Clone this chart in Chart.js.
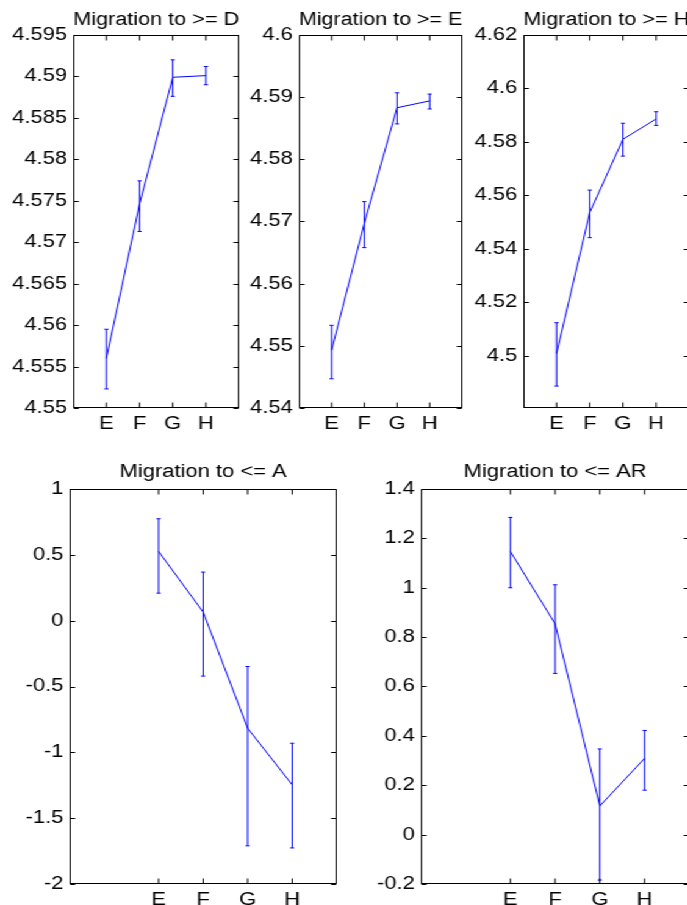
<!DOCTYPE html>
<html>
<head>
<meta charset="utf-8">
<script src="https://cdn.jsdelivr.net/npm/chart.js@4/dist/chart.umd.min.js"></script>
<style>
  html, body { margin: 0; padding: 0; background: #fff; overflow: hidden; width: 687px; height: 905px; }
  /* the original figure is stretched sideways, so the whole page is too */
  #page { position: relative; width: 563px; height: 905px; transform: scaleX(1.22); transform-origin: 0 0; }
  .panel { position: absolute; }
</style>
</head>
<body>
<div id="page"></div>
<script>
const categories = ['E', 'F', 'G', 'H'];

// Migration to >= D
const meanD = [4.5560, 4.5746, 4.5899, 4.5901];
const lowD  = [4.5523, 4.5713, 4.5876, 4.5890];
const highD = [4.5595, 4.5774, 4.5920, 4.5912];
const ticksD = [4.55, 4.555, 4.56, 4.565, 4.57, 4.575, 4.58, 4.585, 4.59, 4.595];

// Migration to >= E
const meanE = [4.5493, 4.5697, 4.5883, 4.5894];
const lowE  = [4.5447, 4.5658, 4.5857, 4.5881];
const highE = [4.5533, 4.5732, 4.5907, 4.5905];
const ticksE = [4.54, 4.55, 4.56, 4.57, 4.58, 4.59, 4.6];

// Migration to >= H
const meanH = [4.5009, 4.5536, 4.5810, 4.5886];
const lowH  = [4.4887, 4.5442, 4.5747, 4.5862];
const highH = [4.5124, 4.5620, 4.5870, 4.5913];
const ticksH = [4.5, 4.52, 4.54, 4.56, 4.58, 4.6, 4.62];

// Migration to <= A
const meanA = [0.526, 0.065, -0.817, -1.247];
const lowA  = [0.209, -0.421, -1.710, -1.726];
const highA = [0.774, 0.369, -0.348, -0.931];
const ticksA = [-2, -1.5, -1, -0.5, 0, 0.5, 1];

// Migration to <= AR
const meanAR = [1.147, 0.854, 0.116, 0.309];
const lowAR  = [1.000, 0.653, -0.184, 0.180];
const highAR = [1.285, 1.012, 0.347, 0.422];
const ticksAR = [-0.2, 0, 0.2, 0.4, 0.6, 0.8, 1, 1.2, 1.4];

const SX = 1.22;         // sideways stretch of the figure
const Y_AXIS_W = 52;
const X_AXIS_H = 34;
const PAD_R = 3;
const TICK = 5;
const CAP = 1.7;
const font = { family: "'Liberation Sans', Arial, Helvetica, sans-serif", size: 18 };

// box = [left, right, top, bottom] of the plot frame in page pixels
const panels = [
  { title: 'Migration to >= D', mean: meanD, low: lowD, high: highD, yTicks: ticksD, yMin: 4.55, yMax: 4.595, xMin: 0, box: [73, 239, 35, 408], titleH: 35 },
  { title: 'Migration to >= E', mean: meanE, low: lowE, high: highE, yTicks: ticksE, yMin: 4.54, yMax: 4.6, xMin: 0, box: [299, 463, 35, 408], titleH: 35 },
  { title: 'Migration to >= H', mean: meanH, low: lowH, high: highH, yTicks: ticksH, yMin: 4.4805, yMax: 4.62, xMin: 0, box: [523, 689, 35, 408], titleH: 35 },
  { title: 'Migration to <= A', mean: meanA, low: lowA, high: highA, yTicks: ticksA, yMin: -2, yMax: 1, xMin: -1, box: [69, 336, 489, 884], titleH: 37 },
  { title: 'Migration to <= AR', mean: meanAR, low: lowAR, high: highAR, yTicks: ticksAR, yMin: -0.2, yMax: 1.4, xMin: -1, box: [421, 689, 489, 884], titleH: 37 }
];

// frame, inward ticks on all four sides and the error bars
const matlabFrame = {
  id: 'matlabFrame',
  afterDatasetsDraw(chart, args, opts) {
    const { ctx, chartArea: a, scales: { x, y } } = chart;
    const l = Math.round(a.left) + 0.5, r = Math.round(a.right) - 0.5;
    const t = Math.round(a.top) + 0.5, b = Math.round(a.bottom) - 0.5;
    ctx.save();
    ctx.lineWidth = 1;

    ctx.strokeStyle = '#0000ff';
    ctx.beginPath();
    opts.low.forEach((lo, i) => {
      const px = x.getPixelForValue(i + 1);
      const y1 = y.getPixelForValue(lo);
      const y2 = y.getPixelForValue(opts.high[i]);
      ctx.moveTo(px, y1); ctx.lineTo(px, y2);
      ctx.moveTo(px - CAP, y1); ctx.lineTo(px + CAP, y1);
      ctx.moveTo(px - CAP, y2); ctx.lineTo(px + CAP, y2);
    });
    ctx.stroke();

    ctx.strokeStyle = '#000';
    ctx.strokeRect(l, t, r - l, b - t);
    ctx.beginPath();
    y.ticks.forEach(tk => {
      const py = Math.round(y.getPixelForValue(tk.value)) + 0.5;
      ctx.moveTo(l, py); ctx.lineTo(l + TICK / SX, py);
      ctx.moveTo(r, py); ctx.lineTo(r - TICK / SX, py);
    });
    x.ticks.forEach(tk => {
      const px = x.getPixelForValue(tk.value);
      ctx.moveTo(px, b); ctx.lineTo(px, b - TICK);
      ctx.moveTo(px, t); ctx.lineTo(px, t + TICK);
    });
    ctx.stroke();
    ctx.restore();
  }
};

const page = document.getElementById('page');

panels.forEach(p => {
  const [L, R, T, B] = p.box;
  const left = Math.round(L / SX) - Y_AXIS_W;
  const width = Math.round((R - L) / SX) + Y_AXIS_W + PAD_R;
  const top = T - p.titleH;
  const height = B - T + p.titleH + X_AXIS_H;

  const div = document.createElement('div');
  div.className = 'panel';
  div.style.left = left + 'px';
  div.style.top = top + 'px';
  const canvas = document.createElement('canvas');
  canvas.width = width;
  canvas.height = height;
  div.appendChild(canvas);
  page.appendChild(div);

  new Chart(canvas, {
    type: 'line',
    data: {
      datasets: [{
        data: p.mean.map((v, i) => ({ x: i + 1, y: v })),
        borderColor: '#0000ff',
        borderWidth: 1,
        pointRadius: 0,
        tension: 0,
        fill: false
      }]
    },
    options: {
      responsive: false,
      animation: false,
      layout: { padding: { left: 0, right: PAD_R, top: 0, bottom: 0 } },
      plugins: {
        legend: { display: false },
        tooltip: { enabled: false },
        title: {
          display: true,
          text: p.title,
          fullSize: false,
          color: '#000',
          font: { ...font, weight: 'normal', lineHeight: 1.2 },
          padding: { top: 9, bottom: p.titleH - 9 - 21.6 }
        },
        matlabFrame: { low: p.low, high: p.high }
      },
      scales: {
        x: {
          type: 'linear',
          min: p.xMin,
          max: 5,
          grid: { display: false, drawTicks: false },
          border: { display: false },
          afterBuildTicks: a => { a.ticks = categories.map((c, i) => ({ value: i + 1 })); },
          afterFit: a => { a.height = X_AXIS_H; },
          ticks: { padding: 5, color: '#000', font, autoSkip: false, maxRotation: 0, callback: v => categories[v - 1] || '' }
        },
        y: {
          min: p.yMin,
          max: p.yMax,
          grid: { display: false, drawTicks: false },
          border: { display: false },
          afterBuildTicks: a => { a.ticks = p.yTicks.map(v => ({ value: v })); },
          afterFit: a => { a.width = Y_AXIS_W; },
          ticks: { padding: 5, color: '#000', font, autoSkip: false, callback: v => String(+v.toFixed(4)) }
        }
      }
    },
    plugins: [matlabFrame]
  });
});
</script>
</body>
</html>
